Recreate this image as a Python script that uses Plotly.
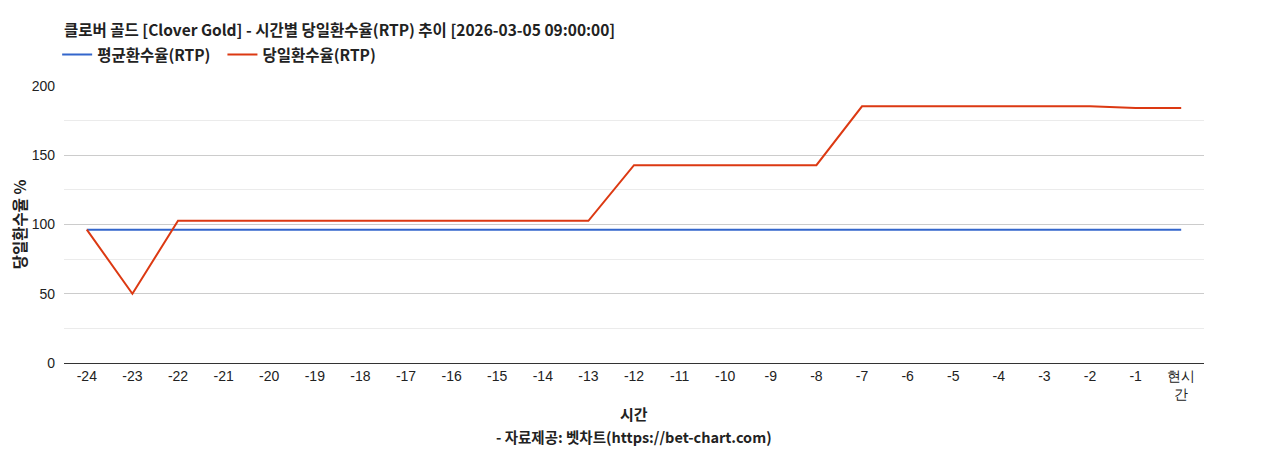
import plotly.graph_objects as go

# 시간축 (현재 기준 -24시간 ~ 현시간)
hours = [str(h) for h in range(-24, 0)] + ["현시간"]
hour_labels = [str(h) for h in range(-24, 0)] + ["현시<br>간"]

avg_rtp = [96.2] * 25
day_rtp = [96.3, 50.0] + [102.7] * 10 + [142.8] * 5 + [185.3] * 6 + [184.2, 184.2]

font_kr = "Noto Sans CJK KR"
font_num = "Liberation Sans, Arial, sans-serif"

fig = go.Figure()
fig.add_trace(go.Scatter(x=hours, y=avg_rtp, mode="lines",
                         name="<b>평균환수율(RTP)</b>\u00a0\u00a0",
                         line=dict(color="#3366cc", width=2)))
fig.add_trace(go.Scatter(x=hours, y=day_rtp, mode="lines", name="<b>당일환수율(RTP)</b>",
                         line=dict(color="#dc3912", width=2)))

# page body has an 8px margin, so figure is a bit smaller than the window
fig.update_layout(
    width=1252, height=442,
    margin=dict(l=56, r=56, t=78, b=87),
    paper_bgcolor="white", plot_bgcolor="white",
    title=dict(text="<b>클로버 골드 [Clover Gold] - 시간별 당일환수율(RTP) 추이 [2026-03-05 09:00:00]</b>",
               x=0, xref="paper", xanchor="left", y=0.950, yanchor="middle",
               font=dict(family=font_kr, size=15.5, color="#222")),
    legend=dict(orientation="h", x=-0.006, xanchor="left", y=1.112, yanchor="middle",
                font=dict(family=font_kr, size=15.5, color="#222"),
                tracegroupgap=0),
    showlegend=True,
)

fig.update_xaxes(
    type="category", tickvals=hours, ticktext=hour_labels,
    showgrid=False, showline=True, linecolor="#333", linewidth=1,
    ticks="", tickfont=dict(family=font_num, size=14, color="#222"),
    range=[-0.5, 24.5], automargin=False,
)
fig.update_yaxes(
    range=[0, 200], dtick=50, showgrid=True, gridcolor="#cccccc", gridwidth=1,
    minor=dict(dtick=25, showgrid=True, gridcolor="#ebebeb"),
    zeroline=False, ticks="", ticklabelstandoff=8, automargin=False,
    tickfont=dict(family=font_num, size=14, color="#222"),
    title=dict(text="<b>당일환수율 %</b>", font=dict(family=font_kr, size=15.5, color="#222"),
               standoff=10),
)

fig.add_annotation(text="<b>시간</b>", x=0.5, xref="paper", y=-0.184, yref="paper",
                   yanchor="middle", showarrow=False,
                   font=dict(family=font_kr, size=15, color="#222"))
fig.add_annotation(text="<b>- 자료제공: 벳차트(https://bet-chart.com)</b>", x=0.5, xref="paper",
                   y=-0.267, yref="paper", yanchor="middle", showarrow=False,
                   font=dict(family=font_kr, size=14.5, color="#222"))

fig.write_html("out.html")
